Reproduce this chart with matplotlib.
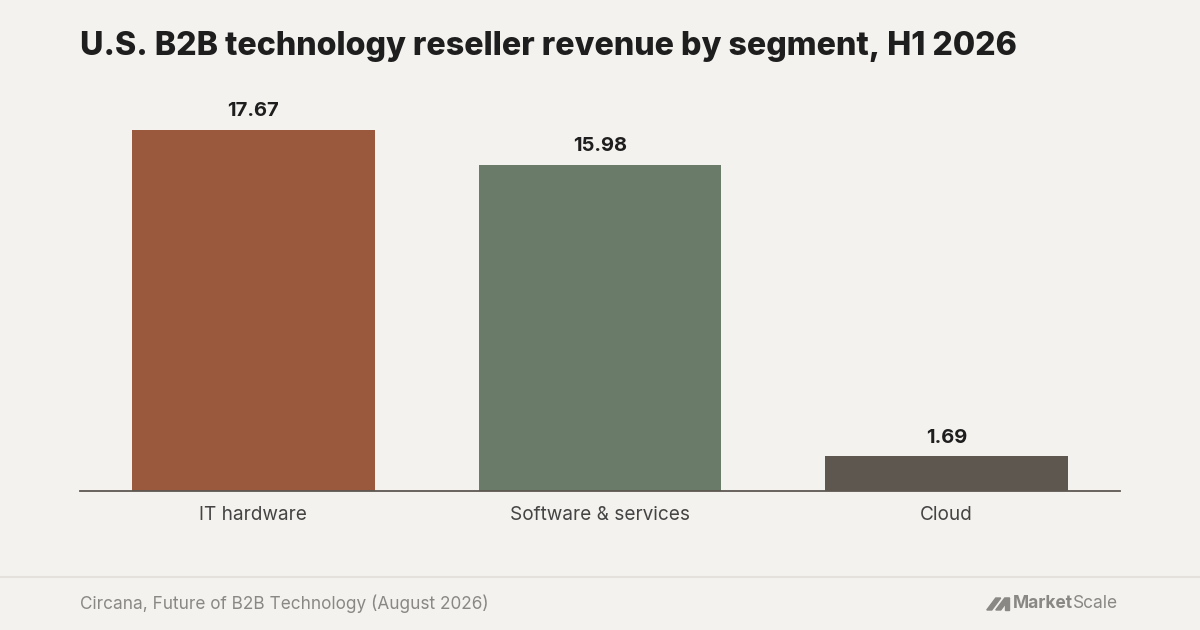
import matplotlib
matplotlib.use("Agg")
import matplotlib.pyplot as plt
from matplotlib.patches import Polygon

# chart data
segments = ["IT hardware", "Software & services", "Cloud"]
revenue = [17.67, 15.98, 1.69]
bar_colors = ["#9A583C", "#6B7B6A", "#5D5750"]

title = "U.S. B2B technology reseller revenue by segment, H1 2026"
source = "Circana, Future of B2B Technology (August 2026)"

bg = "#F4F2EE"
plt.rcParams["font.family"] = ["Inter", "DejaVu Sans"]

fig = plt.figure(figsize=(12, 6.3), dpi=100, facecolor=bg)
ax = fig.add_axes([80 / 1200, 1 - 491 / 630, 1040 / 1200, 391 / 630])
ax.set_facecolor(bg)

bars = ax.bar(range(len(segments)), revenue, width=0.7, color=bar_colors, zorder=2)
ax.set_xlim(-0.5, len(segments) - 0.5)
ax.set_ylim(0, 19.14)

# value labels above each bar
for b, v in zip(bars, revenue):
    ax.annotate(f"{v:.2f}", (b.get_x() + b.get_width() / 2, b.get_height()),
                xytext=(0, 7), textcoords="offset points", ha="center", va="bottom",
                fontsize=14.5, fontweight="bold", color="#1E1E1E")

ax.set_xticks(range(len(segments)))
ax.set_xticklabels(segments, fontsize=13.7, color="#444444")
ax.tick_params(axis="x", length=0, pad=10.5)
ax.set_yticks([])
for side in ["top", "right", "left"]:
    ax.spines[side].set_visible(False)
ax.spines["bottom"].set_color("#5D5750")
ax.spines["bottom"].set_linewidth(1.3)
ax.spines["bottom"].set_zorder(3)

# title
fig.text(80 / 1200, 1 - 47 / 630, title, fontsize=23.2, fontweight="heavy",
         color="#1E1E1E", va="center", ha="left")

# footer divider + source
fig.add_artist(plt.Line2D([0, 1], [1 - 577 / 630] * 2, color="#E4E1DC", linewidth=1.5))
fig.text(80 / 1200, 1 - 604 / 630, source, fontsize=12.4, color="#8A8884",
         va="center", ha="left")

# MarketScale logo
logo_grey = "#8A8884"
t_scale = fig.text(1118 / 1200, 1 - 604 / 630, "Scale", fontsize=12.5, color=logo_grey,
                   va="center", ha="right")
fig.canvas.draw()
r = fig.canvas.get_renderer()
x0 = t_scale.get_window_extent(r).x0
t_market = fig.text(x0 / 1200, 1 - 604 / 630, "Market", fontsize=12.5, fontweight="bold",
                    color=logo_grey, va="center", ha="right")
fig.canvas.draw()
mx = t_market.get_window_extent(r).x0 - 4
yb, yt = 630 - 610, 630 - 598
for dx in (0, 9):
    px = mx - 22 + dx
    fig.add_artist(Polygon([[px / 1200, yb / 630], [(px + 5) / 1200, yb / 630],
                            [(px + 14) / 1200, yt / 630], [(px + 9) / 1200, yt / 630]],
                           closed=True, color=logo_grey, transform=fig.transFigure))
fig.add_artist(Polygon([[(mx - 4) / 1200, yb / 630], [(mx) / 1200, yb / 630],
                        [(mx) / 1200, yt / 630], [(mx - 4) / 1200, yt / 630]],
                       closed=True, color=logo_grey, transform=fig.transFigure))

fig.savefig("out.png", dpi=100, facecolor=bg)
